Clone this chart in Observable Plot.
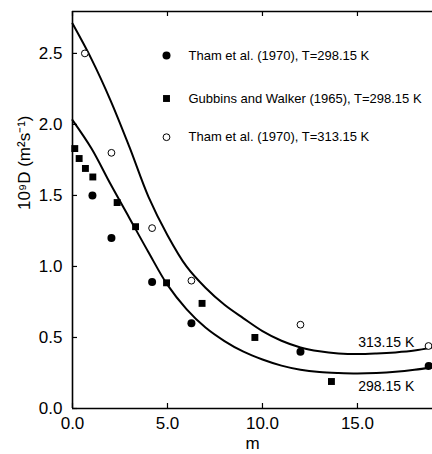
<!DOCTYPE html>
<html>
<head>
<meta charset="utf-8">
<script src="https://cdn.jsdelivr.net/npm/d3@7"></script>
<script src="https://cdn.jsdelivr.net/npm/@observablehq/plot@0.6"></script>
<style>
  html, body { margin: 0; padding: 0; background: #fff; }
  #chart { width: 432px; height: 454px; overflow: hidden; }
</style>
</head>
<body>
<div id="chart"></div>
<script>
// ---- data ----
const m_tham298 = [1.05, 2.05, 4.19, 6.26, 12.0, 18.75];
const D_tham298 = [1.50, 1.20, 0.89, 0.60, 0.40, 0.30];

const m_gubbins = [0.12, 0.35, 0.68, 1.07, 2.35, 3.32, 4.95, 6.82, 9.6, 13.63];
const D_gubbins = [1.83, 1.76, 1.69, 1.63, 1.45, 1.28, 0.885, 0.74, 0.50, 0.19];

const m_tham313 = [0.65, 2.05, 4.19, 6.26, 12.0, 18.74];
const D_tham313 = [2.50, 1.80, 1.27, 0.90, 0.59, 0.44];

const m_fit = [0, 1, 2, 3, 4, 5, 6, 7, 8, 9, 10, 11, 12, 13, 14, 15, 16, 17, 18, 18.95];
const D_fit313 = [2.71, 2.46, 2.17, 1.84, 1.49, 1.22, 1.00, 0.85, 0.73, 0.635, 0.545, 0.477, 0.43, 0.403, 0.388, 0.383, 0.387, 0.395, 0.408, 0.43];
const D_fit298 = [2.03, 1.83, 1.58, 1.34, 1.10, 0.87, 0.70, 0.57, 0.475, 0.40, 0.345, 0.302, 0.273, 0.257, 0.25, 0.247, 0.25, 0.258, 0.272, 0.29];

const curveLabels = ["313.15 K", "298.15 K"];
const curveLabelM = [15.04, 15.04];
const curveLabelD = [0.467, 0.157];

const legendLabels = [
  "Tham et al. (1970), T=298.15 K",
  "Gubbins and Walker (1965), T=298.15 K",
  "Tham et al. (1970), T=313.15 K"
];

const xTicks = [0, 5, 10, 15];
const yTicks = [0, 0.5, 1.0, 1.5, 2.0, 2.5];
const xDomain = [0, 18.95];
const yDomain = [0, 2.795];
const xLabel = "m";
const yLabel = "10⁹D (m²s⁻¹)";

// ---- tables ----
const zip = (xs, ys) => xs.map((x, i) => ({x, y: ys[i]}));
const tham298 = zip(m_tham298, D_tham298);
const gubbins = zip(m_gubbins, D_gubbins);
const tham313 = zip(m_tham313, D_tham313);
const fit313 = zip(m_fit, D_fit313);
const fit298 = zip(m_fit, D_fit298);
const curveLab = curveLabels.map((t, i) => ({t, x: curveLabelM[i], y: curveLabelD[i]}));

const W = 432, H = 454, mL = 72, mT = 11, mB = 46, mR = 0;
const innerW = W - mL - mR, innerH = H - mT - mB;
const font = "Arial, 'Liberation Sans', Helvetica, sans-serif";
const legDx = 94, legTextDx = 116, legDy = [44, 87, 125.7];

const chart = Plot.plot({
  width: W, height: H,
  marginLeft: mL, marginTop: mT, marginBottom: mB, marginRight: mR,
  style: {fontFamily: font, fontSize: "17px", background: "#fff", color: "#000", overflow: "hidden"},
  x: {domain: xDomain},
  y: {domain: yDomain},
  marks: [
    // axes lines
    Plot.ruleX([xDomain[0]], {stroke: "#000", strokeWidth: 1.6}),
    Plot.ruleY([yDomain[0]], {stroke: "#000", strokeWidth: 1.6}),
    Plot.ruleY([yDomain[1]], {stroke: "#000", strokeWidth: 1.6}),
    // inward ticks
    Plot.tickX(xTicks, {x: d => d, insetTop: innerH - 5, stroke: "#000", strokeWidth: 1.2}),
    Plot.tickX(xTicks, {x: d => d, insetBottom: innerH - 5, stroke: "#000", strokeWidth: 1.2}),
    Plot.tickY(yTicks, {y: d => d, insetRight: innerW - 5, stroke: "#000", strokeWidth: 1.2}),
    // tick labels
    Plot.axisX({ticks: xTicks, tickSize: 0, tickPadding: 8, tickFormat: d3.format(".1f"), label: null, fontSize: 17}),
    Plot.axisY({ticks: yTicks, tickSize: 0, tickPadding: 10, tickFormat: d3.format(".1f"), label: null, fontSize: 17}),
    // axis titles
    Plot.text([xLabel], {frameAnchor: "bottom", dy: 40, fontSize: 17}),
    Plot.text([yLabel], {frameAnchor: "left", dx: -48, rotate: -90, fontSize: 17}),
    // fitted curves
    Plot.line(fit313, {x: "x", y: "y", curve: "catmull-rom", stroke: "#000", strokeWidth: 2}),
    Plot.line(fit298, {x: "x", y: "y", curve: "catmull-rom", stroke: "#000", strokeWidth: 2}),
    // data
    Plot.dot(tham298, {x: "x", y: "y", r: 4, fill: "#000", stroke: null}),
    Plot.dot(gubbins, {x: "x", y: "y", symbol: "square", r: 3.9, fill: "#000", stroke: null}),
    Plot.dot(tham313, {x: "x", y: "y", r: 3.4, fill: "#fff", stroke: "#000", strokeWidth: 1}),
    // curve labels
    Plot.text(curveLab, {x: "x", y: "y", text: "t", textAnchor: "start", fontSize: 14}),
    // legend
    Plot.dot([0], {frameAnchor: "top-left", dx: legDx, dy: legDy[0], r: 4, fill: "#000", stroke: null}),
    Plot.dot([0], {frameAnchor: "top-left", dx: legDx, dy: legDy[1], symbol: "square", r: 3.9, fill: "#000", stroke: null}),
    Plot.dot([0], {frameAnchor: "top-left", dx: legDx, dy: legDy[2], r: 3.4, fill: "#fff", stroke: "#000", strokeWidth: 1}),
    Plot.text([legendLabels[0]], {frameAnchor: "top-left", dx: legTextDx, dy: legDy[0], textAnchor: "start", lineAnchor: "middle", fontSize: 13}),
    Plot.text([legendLabels[1]], {frameAnchor: "top-left", dx: legTextDx, dy: legDy[1], textAnchor: "start", lineAnchor: "middle", fontSize: 13}),
    Plot.text([legendLabels[2]], {frameAnchor: "top-left", dx: legTextDx, dy: legDy[2], textAnchor: "start", lineAnchor: "middle", fontSize: 13})
  ]
});
document.getElementById("chart").appendChild(chart);
</script>
</body>
</html>
